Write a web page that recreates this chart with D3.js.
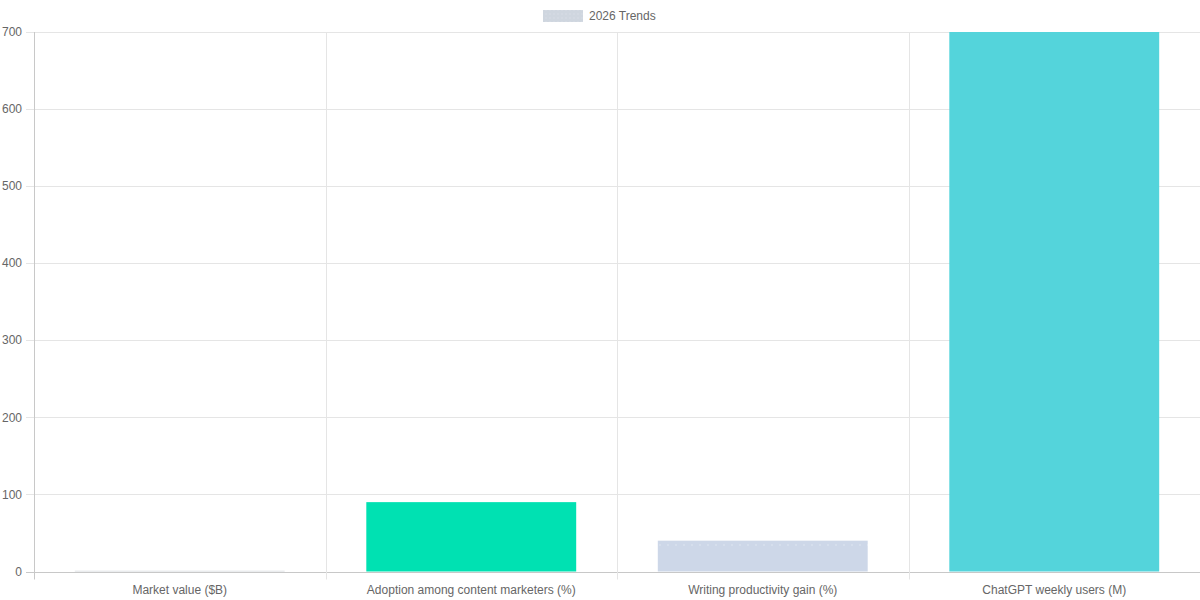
<!DOCTYPE html>
<html><head><meta charset="utf-8">
<script src="https://cdn.jsdelivr.net/npm/d3@7"></script>
<style>body{margin:0;background:#fff}svg{display:block;font-family:"Liberation Sans",Arial,Helvetica,sans-serif}</style>
</head><body><svg id="c" width="1200" height="600"></svg>
<script>
const categories = ["Market value ($B)", "Adoption among content marketers (%)", "Writing productivity gain (%)", "ChatGPT weekly users (M)"];
const values = [1, 90, 40, 700];
const yTicks = [0, 100, 200, 300, 400, 500, 600, 700];
const seriesName = "2026 Trends";
const colors = ["#d6d9de", "#00e1b2", "#cdd7e8", "#54d4db"];

const svg = d3.select("#c");
const defs = svg.append("defs");
const pat = defs.append("pattern").attr("id","dots").attr("patternUnits","userSpaceOnUse").attr("width",8).attr("height",30);
pat.append("rect").attr("width",8).attr("height",30).attr("fill","#cdd7e8");
pat.append("circle").attr("cx",4).attr("cy",5).attr("r",0.7).attr("fill","#e4ebf3");
const lp = defs.append("pattern").attr("id","lp").attr("patternUnits","userSpaceOnUse").attr("width",4).attr("height",4);
lp.append("rect").attr("width",4).attr("height",4).attr("fill","#cfd6df");
lp.append("circle").attr("cx",2).attr("cy",2).attr("r",0.8).attr("fill","#d8dee6");

const L = 34, R = 1200, T = 32, B = 571.5;
const x = d3.scaleBand().domain(categories).range([L, R]).paddingInner(0).paddingOuter(0);
const y = d3.scaleLinear().domain([0, 700]).range([B, T]);

// grid
const g = svg.append("g");
g.selectAll(".hg").data(yTicks).join("line")
  .attr("x1", L-8).attr("x2", R).attr("y1", d=>Math.round(y(d))+0.5).attr("y2", d=>Math.round(y(d))+0.5)
  .attr("stroke", d=> d===0 ? "#c8c8c8" : "#e5e5e5").attr("stroke-width",1);
const vlines = categories.map(c=>x(c)).concat([R]);
g.selectAll(".vg").data(vlines).join("line")
  .attr("x1", d=>Math.round(d)+0.5).attr("x2", d=>Math.round(d)+0.5).attr("y1", T).attr("y2", B+8)
  .attr("stroke", (d,i)=> i===0 ? "#c8c8c8" : "#e5e5e5").attr("stroke-width",1);

// bars
const bw = x.bandwidth()*0.72;
svg.selectAll(".bar").data(values).join("rect")
  .attr("x", (d,i)=> x(categories[i]) + (x.bandwidth()-bw)/2)
  .attr("width", bw)
  .attr("y", d=> y(d))
  .attr("height", d=> B - y(d))
  .attr("fill", (d,i)=> i===2 ? "url(#dots)" : colors[i]);

// y labels
svg.selectAll(".yl").data(yTicks).join("text")
  .attr("x", 22).attr("y", d=>y(d)).attr("dy","0.35em").attr("text-anchor","end")
  .attr("font-size",12).attr("fill","#666").text(d=>d);
// x labels
svg.selectAll(".xl").data(categories).join("text")
  .attr("x", d=>x(d)+x.bandwidth()/2).attr("y", 590).attr("dy","0.35em").attr("text-anchor","middle")
  .attr("font-size",12).attr("fill","#666").text(d=>d);

// legend
svg.append("rect").attr("x",543).attr("y",10).attr("width",40).attr("height",12).attr("fill","url(#lp)");
svg.append("text").attr("x",589).attr("y",16).attr("dy","0.35em").attr("font-size",12).attr("fill","#666").text(seriesName);
</script></body></html>
